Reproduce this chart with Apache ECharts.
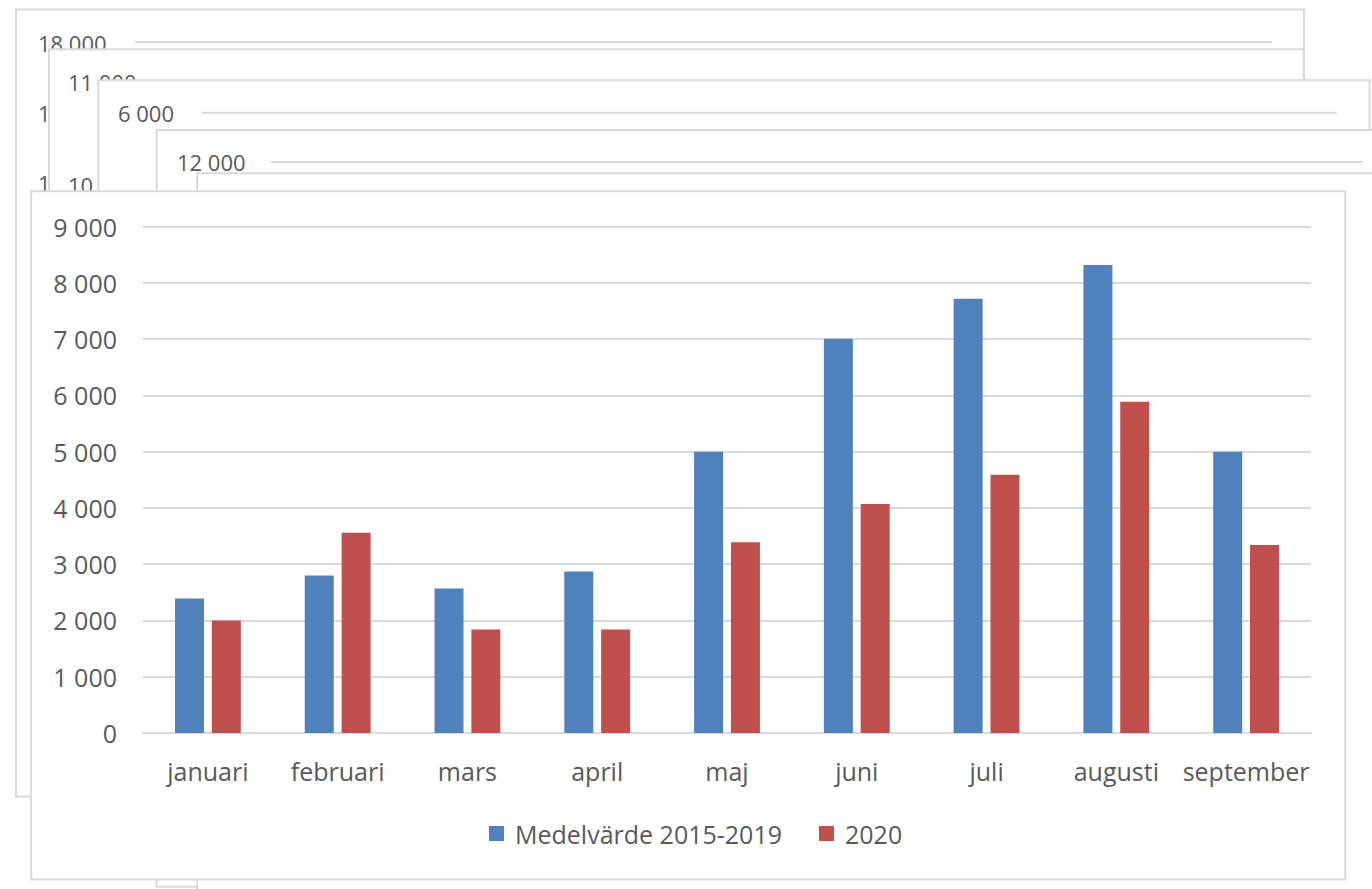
<!DOCTYPE html>
<html>
<head>
<meta charset="utf-8">
<script src="https://cdn.jsdelivr.net/npm/echarts@6/dist/echarts.min.js"></script>
<style>
html,body{margin:0;padding:0;background:#fff;}
#chart{width:1372px;height:889px;}
</style>
</head>
<body>
<div id="chart"></div>
<script>
const categories = ['januari','februari','mars','april','maj','juni','juli','augusti','september'];
const avg2015_2019 = [2390, 2800, 2570, 2870, 5000, 7010, 7720, 8320, 5000];
const values2020 = [2000, 3560, 1840, 1840, 3390, 4070, 4590, 5890, 3340];
const seriesNames = ['Medelvärde 2015-2019', '2020'];
const yMin = 0, yMax = 9000, yInterval = 1000;
// labels of the stacked chart frames behind the main chart
const frameALabels = ['18 000', '16 000', '14 000'];
const frameBLabels = ['11 000', '10 000'];
const frameCLabels = ['6 000'];
const frameDLabels = ['12 000'];

const FONT = '"Open Sans", "Noto Sans", sans-serif';
const GRID = '#d9d9d9';
const TXT = '#595959';

function fmt(v){ return String(v).replace(/\B(?=(\d{3})+(?!\d))/g, ' '); }
function frame(x, y, w, h, z){
  return {type:'rect', z:z, silent:true, shape:{x:x, y:y, width:w, height:h},
    style:{fill:'#fff', stroke:GRID, lineWidth:2}};
}
function label(t, x, y, z, visW){
  const st = {text:t, fill:TXT, fontSize:22, fontFamily:FONT, verticalAlign:'middle', align:'left'};
  if (visW) { st.width = visW; st.overflow = 'truncate'; st.ellipsis = ''; }
  return {type:'text', z:z, silent:true, x:x, y:y, style:st};
}
function hline(x1, x2, y, z){
  return {type:'line', z:z, silent:true, shape:{x1:x1, y1:y, x2:x2, y2:y},
    style:{stroke:GRID, lineWidth:2}};
}

const graphics = [
  frame(16, 9.5, 1288, 787, -60),
  label(frameALabels[0], 38, 42.5, -59),
  label(frameALabels[1], 38, 113, -59, 14),
  label(frameALabels[2], 38, 183, -59, 14),
  hline(135, 1272, 42, -59),
  frame(49, 49.3, 1254.7, 790, -50),
  label(frameBLabels[0], 68, 82, -49),
  label(frameBLabels[1], 68, 184.5, -49, 30),
  frame(98.3, 80.3, 1271.2, 780, -40),
  label(frameCLabels[0], 118, 113.3, -39),
  hline(201.7, 1336.7, 112.7, -39),
  frame(156.7, 130, 1300, 756.7, -30),
  label(frameDLabels[0], 177, 162.3, -29),
  hline(270.7, 1362.7, 162, -29),
  frame(197.2, 173.3, 1300, 800, -20),
  frame(31.2, 191.2, 1314.1, 688.3, -10)
];

const chart = echarts.init(document.getElementById('chart'), null, {renderer:'svg'});
chart.setOption({
  backgroundColor:'#fff',
  animation:false,
  textStyle:{fontFamily:FONT},
  graphic:{elements:graphics},
  grid:{left:143, right:61, top:226.7, bottom:156, containLabel:false, outerBoundsMode:'none'},
  legend:{
    left:489, top:821, padding:0, itemWidth:15, itemHeight:15, itemGap:37,
    icon:'rect',
    textStyle:{fontSize:25, color:TXT, fontFamily:FONT, padding:[0,0,0,6]},
    data:seriesNames
  },
  xAxis:{
    type:'category', data:categories,
    axisLine:{show:true, lineStyle:{color:GRID, width:2}},
    axisTick:{show:false},
    axisLabel:{color:TXT, fontSize:25, fontFamily:FONT, margin:25, interval:0}
  },
  yAxis:{
    type:'value', min:yMin, max:yMax, interval:yInterval,
    axisLine:{show:false}, axisTick:{show:false},
    splitLine:{show:true, lineStyle:{color:GRID, width:2}},
    axisLabel:{color:TXT, fontSize:25, fontFamily:FONT, margin:26, formatter:fmt}
  },
  series:[
    {name:seriesNames[0], type:'bar', data:avg2015_2019, barWidth:29, barGap:'27%',
      itemStyle:{color:'#4F81BD'}},
    {name:seriesNames[1], type:'bar', data:values2020, barWidth:29, barGap:'27%',
      itemStyle:{color:'#C0504D'}}
  ]
});
</script>
</body>
</html>
